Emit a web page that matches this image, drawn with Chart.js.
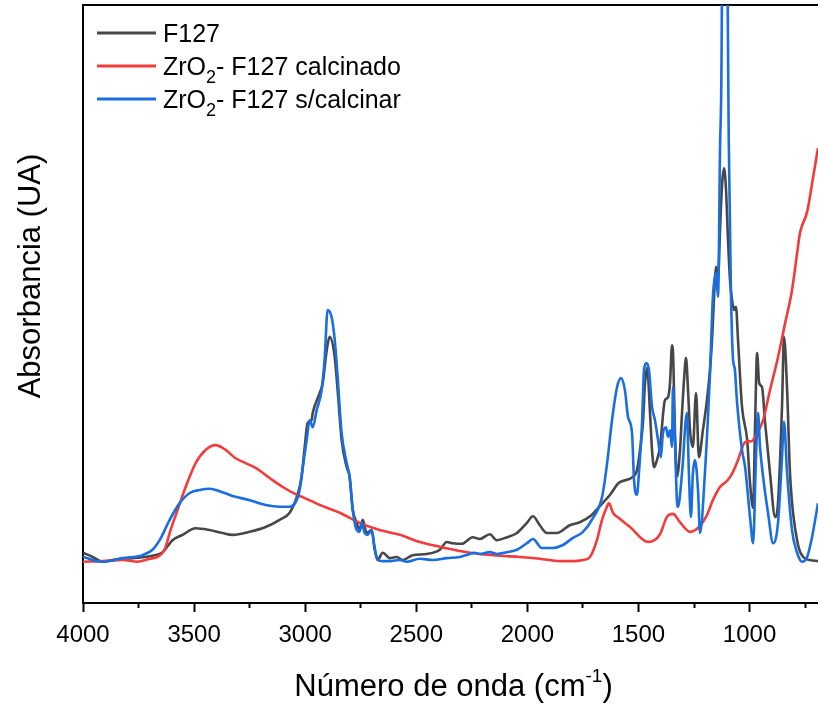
<!DOCTYPE html>
<html><head><meta charset="utf-8">
<script src="https://cdn.jsdelivr.net/npm/chart.js@4.4.1/dist/chart.umd.min.js"></script>
<style>html,body{margin:0;padding:0;background:#fff}#wrap{width:818px;height:706px;position:relative}</style>
</head><body><div id="wrap"><canvas id="c"></canvas></div>
<script>
const seriesNames = ['F127', 'ZrO₂- F127 calcinado', 'ZrO₂- F127 s/calcinar'];
const seriesColors = ['#474747', '#f23b3b', '#1a6ee0'];
const xTitle = 'Número de onda (cm⁻¹)';
const yTitle = 'Absorbancia (UA)';
const majorTicks = [4000, 3500, 3000, 2500, 2000, 1500, 1000];
const minorTicks = [3750, 3250, 2750, 2250, 1750, 1250, 750];
const xMin = 692, xMax = 4000, yMin = 0, yMax = 100;

const wnF127 = [4000,3957,3912,3867,3777,3687,3642,3597,3552,3493,3430,3372,3327,3250,3178,3115,3070,3038,3016,3002,2989,2971,2966,2935,2921,2903,2890,2867,2854,2836,2813,2800,2786,2768,2755,2741,2723,2701,2687,2674,2651,2619,2588,2561,2516,2453,2394,2363,2336,2295,2246,2214,2169,2138,2092,2047,2002,1975,1944,1912,1867,1809,1764,1718,1674,1628,1588,1525,1507,1493,1480,1471,1462,1457,1448,1439,1430,1417,1403,1381,1367,1358,1349,1345,1336,1327,1313,1304,1295,1286,1277,1268,1255,1241,1228,1210,1192,1178,1169,1156,1151,1142,1133,1124,1115,1106,1097,1088,1079,1070,1066,1061,1052,1034,1011,998,984,975,966,957,944,930,908,885,872,854,845,831,818,786,759,728,692];
const absF127 = [8.4,7.7,6.9,7.2,7.5,7.9,8.5,10.5,11.4,12.5,12.2,11.7,11.4,11.9,12.7,13.9,15.1,17.7,21.1,26.1,30.1,30.6,31.8,35.1,36.8,42.3,44.5,41.1,35.6,27.3,22.7,21.1,15.6,13.4,12.2,13.9,11.7,12.2,8.9,7.2,8.4,7.5,7.7,7.2,8.0,8.2,8.9,10.2,10.0,9.9,11.0,10.7,11.5,10.5,11.0,11.7,13.4,14.5,13.0,11.7,11.7,13.0,13.5,14.5,16.2,18.1,20.1,21.1,22.2,25.6,30.1,36.5,39.3,38.1,31.8,25.6,22.7,23.9,26.1,33.9,34.4,36.8,43.1,42.3,28.9,21.1,25.6,31.8,37.3,41.0,35.6,28.9,26.1,35.1,24.4,28.9,33.9,39.0,44.0,54.0,56.2,54.0,62.4,69.9,72.7,69.1,60.7,54.0,50.7,49.0,49.5,49.5,44.0,32.8,27.3,20.1,15.9,30.1,41.8,36.8,36.1,30.1,21.7,14.4,16.7,32.8,44.5,35.6,21.7,10.5,7.7,7.2,7.0];

const wnCalc = [4000,3912,3822,3755,3700,3664,3633,3606,3574,3538,3493,3448,3403,3358,3313,3268,3223,3160,3101,3043,3011,2935,2845,2755,2665,2574,2484,2394,2304,2214,2124,2034,1944,1854,1795,1750,1718,1687,1664,1642,1633,1615,1588,1538,1457,1403,1372,1345,1313,1268,1223,1192,1165,1133,1102,1079,1052,1020,988,975,939,908,872,840,809,786,773,741,714,692];
const absCalc = [6.9,7.0,7.2,6.9,7.4,7.7,8.9,12.2,15.6,19.4,23.4,25.6,26.4,25.6,24.2,23.4,22.6,20.9,19.4,18.2,17.7,16.4,15.1,13.4,12.2,11.4,10.2,9.4,8.7,8.2,7.9,7.7,7.4,7.0,7.0,7.2,7.7,10.5,13.9,16.1,16.7,15.1,14.2,12.7,10.2,11.5,14.4,14.9,13.5,11.9,12.9,14.7,17.2,19.4,20.4,21.6,23.9,26.9,27.1,27.8,30.6,35.6,41.1,46.8,52.3,58.5,61.9,65.4,71.2,76.1];

const wnSCalc = [4000,3912,3822,3732,3687,3655,3610,3565,3520,3475,3430,3385,3327,3250,3178,3115,3070,3038,3025,3011,2993,2980,2966,2948,2926,2912,2899,2881,2867,2854,2836,2813,2800,2786,2768,2755,2746,2732,2719,2701,2687,2674,2651,2619,2574,2543,2484,2426,2363,2304,2259,2237,2214,2169,2138,2092,2047,2002,1975,1935,1885,1840,1795,1750,1705,1664,1642,1619,1597,1579,1561,1547,1529,1520,1507,1498,1484,1475,1462,1453,1439,1426,1412,1399,1390,1376,1367,1358,1349,1345,1336,1327,1322,1304,1282,1273,1264,1255,1246,1232,1223,1201,1178,1165,1151,1142,1133,1125,1123,1111,1100,1098,1093,1084,1075,1066,1057,1034,1020,998,984,971,962,953,939,917,894,872,854,845,831,809,786,764,741,719,692];
const absSCalc = [7.7,6.9,7.5,8.0,8.9,10.5,13.9,16.7,18.4,18.9,19.1,18.7,17.9,17.2,16.4,16.1,16.1,17.2,18.9,22.7,27.3,30.6,29.4,32.3,35.6,41.1,49.0,47.8,44.0,37.8,28.4,23.4,21.1,15.6,12.2,11.9,13.4,11.7,11.4,12.2,9.2,7.2,7.0,7.0,7.2,6.9,7.4,7.2,7.5,7.7,8.2,8.4,8.2,8.5,8.2,8.5,8.9,10.0,10.7,9.2,9.2,9.7,10.9,11.9,14.2,17.7,23.1,30.6,36.0,37.6,35.6,31.1,28.4,20.6,18.1,21.7,30.1,39.0,40.1,39.0,32.8,30.6,27.3,24.4,28.4,29.4,27.8,28.9,26.1,36.1,27.3,17.2,16.1,21.7,31.8,21.7,14.4,21.7,23.9,18.9,11.7,21.7,38.5,51.2,55.2,51.2,75.8,98,125,600,125,98,75.8,52.3,41.1,39.0,33.9,25.6,22.7,14.4,10.0,24.4,31.8,26.1,21.1,15.1,10.0,13.4,24.4,30.3,21.7,12.2,8.4,6.9,7.7,11.0,16.7];

const FONT = '"Liberation Sans", Arial, Helvetica, sans-serif';
function pts(xs, ys) { return xs.map((x, i) => ({x: x, y: ys[i]})); }

const subMap = {'₂': '2'};
const supMap = {'⁻': '-', '¹': '1'};
function segments(str) {
  const out = [];
  for (const ch of str) {
    let kind = 'n', c = ch;
    if (subMap[ch]) { kind = 'sub'; c = subMap[ch]; }
    else if (supMap[ch]) { kind = 'sup'; c = supMap[ch]; }
    const last = out[out.length - 1];
    if (last && last.kind === kind) last.text += c; else out.push({kind: kind, text: c});
  }
  return out;
}
function drawRich(ctx, str, x, y, size, align, ratio) {
  const segs = segments(str);
  const small = Math.round(size * (ratio || 0.66));
  let total = 0;
  segs.forEach(s => {
    ctx.font = (s.kind === 'n' ? size : small) + 'px ' + FONT;
    s.w = ctx.measureText(s.text).width; total += s.w;
  });
  let cx = align === 'center' ? x - total / 2 : x;
  ctx.textAlign = 'left'; ctx.textBaseline = 'alphabetic';
  segs.forEach(s => {
    ctx.font = (s.kind === 'n' ? size : small) + 'px ' + FONT;
    let dy = 0;
    if (s.kind === 'sub') dy = size * 0.3;
    if (s.kind === 'sup') dy = -size * 0.45;
    ctx.fillText(s.text, cx, y + dy);
    cx += s.w;
  });
}

const textPlugin = {
  id: 'texts',
  afterDraw(chart) {
    const ctx = chart.ctx, ca = chart.chartArea;
    ctx.save();
    ctx.fillStyle = '#000';
    ctx.save();
    ctx.font = '31px ' + FONT;
    ctx.translate(40, 276); ctx.rotate(-Math.PI / 2);
    ctx.textAlign = 'center'; ctx.textBaseline = 'alphabetic';
    ctx.fillText(yTitle, 0, 0);
    ctx.restore();
    drawRich(ctx, xTitle, (ca.left + ca.right) / 2 + 3, 696, 31, 'center', 0.62);
    const lx0 = ca.left + 14, lx1 = ca.left + 73, tx = ca.left + 80;
    seriesNames.forEach((name, i) => {
      const by = 42 + i * 33;
      ctx.strokeStyle = seriesColors[i]; ctx.lineWidth = 3;
      ctx.beginPath(); ctx.moveTo(lx0, by - 9); ctx.lineTo(lx1, by - 9); ctx.stroke();
      ctx.fillStyle = '#000';
      drawRich(ctx, name, tx, by, 25, 'left', 0.72);
    });
    ctx.restore();
  }
};

const dsBase = {pointRadius: 0, borderWidth: 2.6, fill: false, cubicInterpolationMode: 'monotone'};
new Chart(document.getElementById('c'), {
  type: 'line',
  data: {
    datasets: [
      Object.assign({label: seriesNames[0], data: pts(wnF127, absF127), borderColor: seriesColors[0], order: 3}, dsBase),
      Object.assign({label: seriesNames[1], data: pts(wnCalc, absCalc), borderColor: seriesColors[1], order: 2}, dsBase),
      Object.assign({label: seriesNames[2], data: pts(wnSCalc, absSCalc), borderColor: seriesColors[2], order: 1}, dsBase)
    ]
  },
  options: {
    responsive: true, maintainAspectRatio: false, animation: false, devicePixelRatio: 1,
    layout: {padding: {top: 5, left: 0, right: 0, bottom: 0}},
    plugins: {legend: {display: false}, tooltip: {enabled: false}},
    scales: {
      x: {
        type: 'linear', position: 'bottom', min: xMin, max: xMax, reverse: true,
        afterBuildTicks: s => { s.ticks = majorTicks.map(v => ({value: v})); },
        afterFit: s => { s.height = 103; },
        ticks: {autoSkip: false, maxRotation: 0, padding: 9, color: '#000', font: {family: FONT, size: 24}, callback: v => String(v)},
        grid: {display: true, drawOnChartArea: false, drawTicks: true, tickLength: 9, tickWidth: 2, tickColor: '#000'},
        border: {display: true, color: '#000', width: 2}
      },
      xMinor: {
        type: 'linear', axis: 'x', position: {y: yMin}, min: xMin, max: xMax, reverse: true,
        afterBuildTicks: s => { s.ticks = minorTicks.map(v => ({value: v})); },
        ticks: {display: false},
        grid: {display: true, drawOnChartArea: false, drawTicks: true, tickLength: 5, tickWidth: 2, tickColor: '#000'},
        border: {display: false}
      },
      xTop: {
        type: 'linear', axis: 'x', position: 'top', min: xMin, max: xMax, reverse: true,
        afterFit: s => { s.height = 0; },
        ticks: {display: false},
        grid: {display: true, drawOnChartArea: false, drawTicks: false},
        border: {display: true, color: '#000', width: 2}
      },
      y: {
        type: 'linear', position: 'left', min: yMin, max: yMax,
        afterFit: s => { s.width = 83; },
        ticks: {display: false},
        grid: {display: true, drawOnChartArea: false, drawTicks: false},
        border: {display: true, color: '#000', width: 2}
      }
    }
  },
  plugins: [textPlugin]
});
</script>
</body></html>
